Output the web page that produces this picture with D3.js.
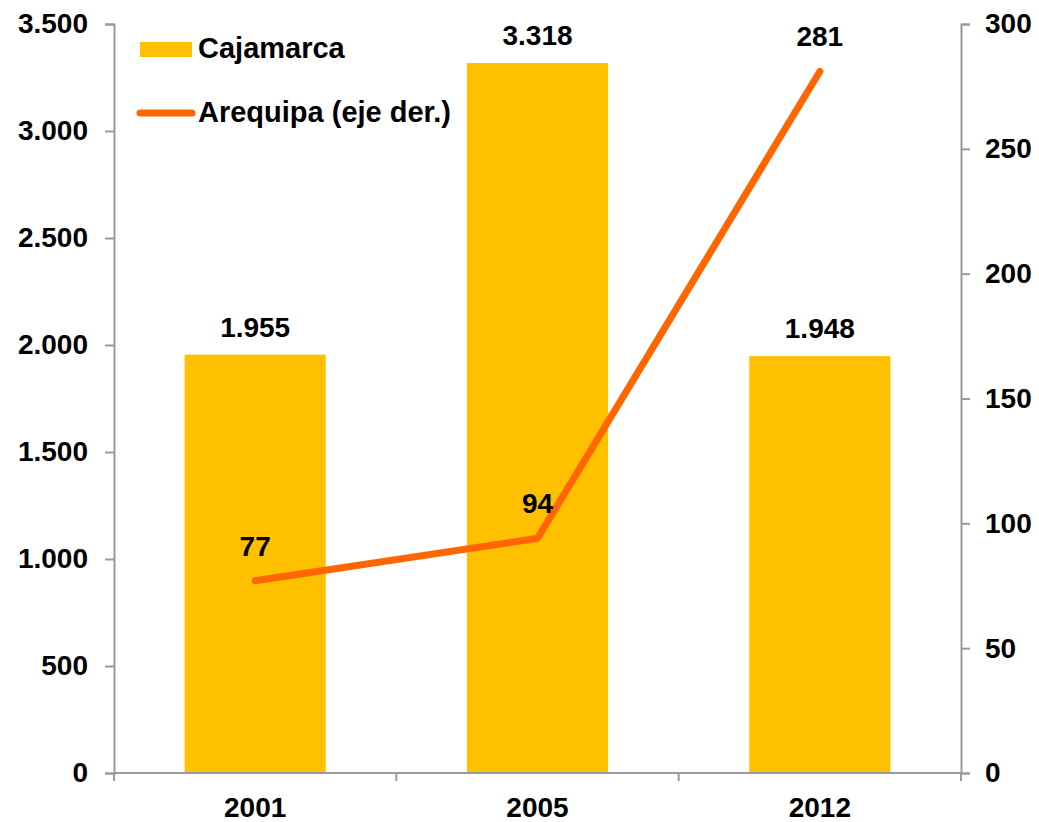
<!DOCTYPE html>
<html>
<head>
<meta charset="utf-8">
<script src="https://cdn.jsdelivr.net/npm/d3@7"></script>
<style>
  body { margin: 0; background: #fff; }
  text { font-family: "Liberation Sans", Arial, sans-serif; font-weight: bold; fill: #000; }
</style>
</head>
<body>
<div id="chart"></div>
<script>
const years = ["2001", "2005", "2012"];
const cajamarca = [1955, 3318, 1948];
const arequipa = [77, 94, 281];
const leftTicks = [0, 500, 1000, 1500, 2000, 2500, 3000, 3500];
const rightTicks = [0, 50, 100, 150, 200, 250, 300];

const width = 1039, height = 822;
const margin = { top: 24, right: 78, bottom: 49, left: 114 };
const fontSize = "28px";

const svg = d3.select("#chart").append("svg")
  .attr("width", width)
  .attr("height", height);

const x = d3.scaleBand()
  .domain(years)
  .range([margin.left, width - margin.right])
  .paddingInner(0.5)
  .paddingOuter(0.25);

const yLeft = d3.scaleLinear().domain([0, 3500]).range([height - margin.bottom, margin.top]);
const yRight = d3.scaleLinear().domain([0, 300]).range([height - margin.bottom, margin.top]);

const fmt = d3.formatLocale({ decimal: ",", thousands: ".", grouping: [3], currency: ["", ""] }).format(",");

// bars
svg.selectAll("rect.bar")
  .data(cajamarca)
  .enter()
  .append("rect")
  .attr("class", "bar")
  .attr("x", (d, i) => x(years[i]))
  .attr("y", d => yLeft(d))
  .attr("width", x.bandwidth())
  .attr("height", d => yLeft(0) - yLeft(d))
  .attr("fill", "#FFC000");

svg.selectAll("text.barlabel")
  .data(cajamarca)
  .enter()
  .append("text")
  .attr("class", "barlabel")
  .attr("x", (d, i) => x(years[i]) + x.bandwidth() / 2)
  .attr("y", d => yLeft(d) - 18)
  .attr("text-anchor", "middle")
  .style("font-size", fontSize)
  .text(d => fmt(d));

// axes
const axisColor = "#9a9a9a";

const gLeft = svg.append("g")
  .attr("transform", `translate(${margin.left},0)`)
  .call(d3.axisLeft(yLeft).tickValues(leftTicks).tickSize(9).tickPadding(17).tickFormat(fmt));

const gRight = svg.append("g")
  .attr("transform", `translate(${width - margin.right},0)`)
  .call(d3.axisRight(yRight).tickValues(rightTicks).tickSize(9).tickPadding(15));

const xEdges = d3.scaleLinear().domain([0, 3]).range([margin.left, width - margin.right]);
const gBottom = svg.append("g")
  .attr("transform", `translate(0,${height - margin.bottom})`)
  .call(d3.axisBottom(x).tickSize(0).tickPadding(24));

gBottom.selectAll(".edge")
  .data([0, 1, 2, 3])
  .enter()
  .append("line")
  .attr("class", "edge")
  .attr("x1", d => xEdges(d))
  .attr("x2", d => xEdges(d))
  .attr("y1", 0)
  .attr("y2", 8)
  .attr("stroke", axisColor)
  .attr("stroke-width", 2);

[gLeft, gRight, gBottom].forEach(g => {
  g.select(".domain").attr("stroke", axisColor).attr("stroke-width", 2);
  g.selectAll(".tick line").attr("stroke", axisColor).attr("stroke-width", 2);
  g.selectAll(".tick text")
    .style("font-size", fontSize)
    .style("font-family", "'Liberation Sans', Arial, sans-serif")
    .style("font-weight", "bold")
    .attr("fill", "#000");
});
gBottom.select(".domain").attr("d", `M${margin.left},0H${width - margin.right}`);

// line
const line = d3.line()
  .x((d, i) => x(years[i]) + x.bandwidth() / 2)
  .y(d => yRight(d));

svg.append("path")
  .datum(arequipa)
  .attr("d", line)
  .attr("fill", "none")
  .attr("stroke", "#FF6600")
  .attr("stroke-width", 7)
  .attr("stroke-linecap", "round")
  .attr("stroke-linejoin", "round");

svg.selectAll("text.linelabel")
  .data(arequipa)
  .enter()
  .append("text")
  .attr("class", "linelabel")
  .attr("x", (d, i) => x(years[i]) + x.bandwidth() / 2)
  .attr("y", d => yRight(d) - 25)
  .attr("text-anchor", "middle")
  .style("font-size", fontSize)
  .text(d => d);

// legend
const legend = svg.append("g").attr("transform", "translate(140,0)");
legend.append("rect")
  .attr("x", 0).attr("y", 42).attr("width", 52).attr("height", 15)
  .attr("fill", "#FFC000");
legend.append("text")
  .attr("x", 58).attr("y", 58)
  .style("font-size", "29px")
  .text("Cajamarca");
legend.append("line")
  .attr("x1", 0).attr("x2", 52).attr("y1", 113).attr("y2", 113)
  .attr("stroke", "#FF6600").attr("stroke-width", 7).attr("stroke-linecap", "round");
legend.append("text")
  .attr("x", 58).attr("y", 122)
  .style("font-size", "29px")
  .text("Arequipa (eje der.)");
</script>
</body>
</html>
